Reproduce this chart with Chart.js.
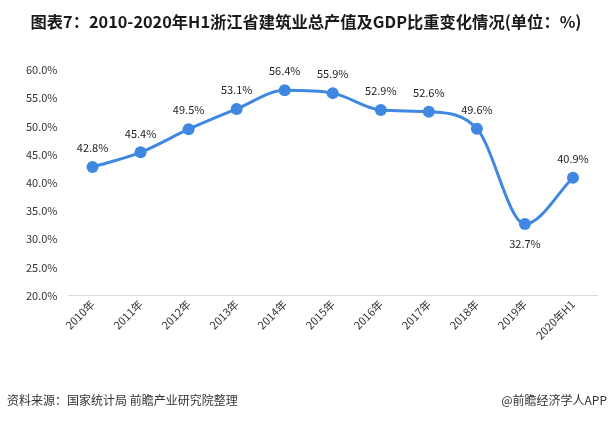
<!DOCTYPE html>
<html>
<head>
<meta charset="utf-8">
<script src="https://cdn.jsdelivr.net/npm/chart.js@4"></script>
<style>
  html, body { margin: 0; padding: 0; background: #fff; }
  #wrap { width: 611px; height: 422px; position: relative; }
</style>
</head>
<body>
<div id="wrap"><canvas id="grafica" width="611" height="422"></canvas></div>
<script>
const titulo = '图表7：2010-2020年H1浙江省建筑业总产值及GDP比重变化情况(单位：%)';
const fuente = '资料来源：国家统计局 前瞻产业研究院整理';
const marca = '@前瞻经济学人APP';
const labels = ['2010年', '2011年', '2012年', '2013年', '2014年', '2015年', '2016年', '2017年', '2018年', '2019年', '2020年H1'];
const valores = [42.8, 45.4, 49.5, 53.1, 56.4, 55.9, 52.9, 52.6, 49.6, 32.7, 40.9];
const labelAbajo = [false, false, false, false, false, false, false, false, false, true, false];

const fontCJK = '"Noto Sans CJK SC", "Noto Sans", sans-serif';

// titulo, fuente y etiquetas de datos
const textos = {
  id: 'textos',
  afterDatasetsDraw(chart) {
    const ctx = chart.ctx;
    const meta = chart.getDatasetMeta(0);
    ctx.save();
    ctx.fillStyle = '#222';
    ctx.font = '11px ' + fontCJK;
    ctx.textAlign = 'center';
    ctx.textBaseline = 'middle';
    meta.data.forEach((p, i) => {
      const dy = labelAbajo[i] ? 20 : -19;
      ctx.fillText(valores[i].toFixed(1) + '%', p.x, p.y + dy);
    });
    ctx.restore();
  },
  afterDraw(chart) {
    const ctx = chart.ctx;
    ctx.save();
    ctx.fillStyle = '#1a1a1a';
    ctx.font = 'bold 16.3px ' + fontCJK;
    ctx.textAlign = 'center';
    ctx.textBaseline = 'middle';
    ctx.fillText(titulo, 306, 22);
    ctx.fillStyle = '#333';
    ctx.font = '12px ' + fontCJK;
    ctx.textAlign = 'left';
    ctx.fillText(fuente, 7, 400);
    ctx.textAlign = 'right';
    ctx.fillText(marca, 607, 400);
    ctx.restore();
  }
};

const ctx = document.getElementById('grafica').getContext('2d');
const chart = new Chart(ctx, {
  type: 'line',
  data: {
    labels,
    datasets: [
      {
        data: valores,
        borderColor: '#3f87e0',
        backgroundColor: '#3f87e0',
        borderWidth: 3,
        pointRadius: 6,
        pointHoverRadius: 6,
        pointBackgroundColor: '#3f87e0',
        pointBorderWidth: 0,
        cubicInterpolationMode: 'monotone',
        fill: false
      }
    ]
  },
  options: {
    responsive: false,
    animation: false,
    layout: { padding: { top: 70, left: 15, right: 14, bottom: 78 } },
    scales: {
      y: {
        min: 20,
        max: 60,
        ticks: {
          stepSize: 5,
          color: '#333',
          padding: 11,
          font: { size: 11, family: fontCJK },
          callback: v => v.toFixed(1) + '%'
        },
        grid: { display: false, drawTicks: false },
        border: { display: false }
      },
      x: {
        offset: true,
        ticks: {
          color: '#333',
          minRotation: 45,
          maxRotation: 45,
          padding: 2,
          font: { size: 11, family: fontCJK }
        },
        grid: { display: false, drawTicks: false, offset: true },
        border: { display: true, color: '#d9d9d9', width: 1 }
      }
    },
    plugins: {
      legend: { display: false },
      tooltip: { enabled: false }
    }
  },
  plugins: [textos]
});
</script>
</body>
</html>
